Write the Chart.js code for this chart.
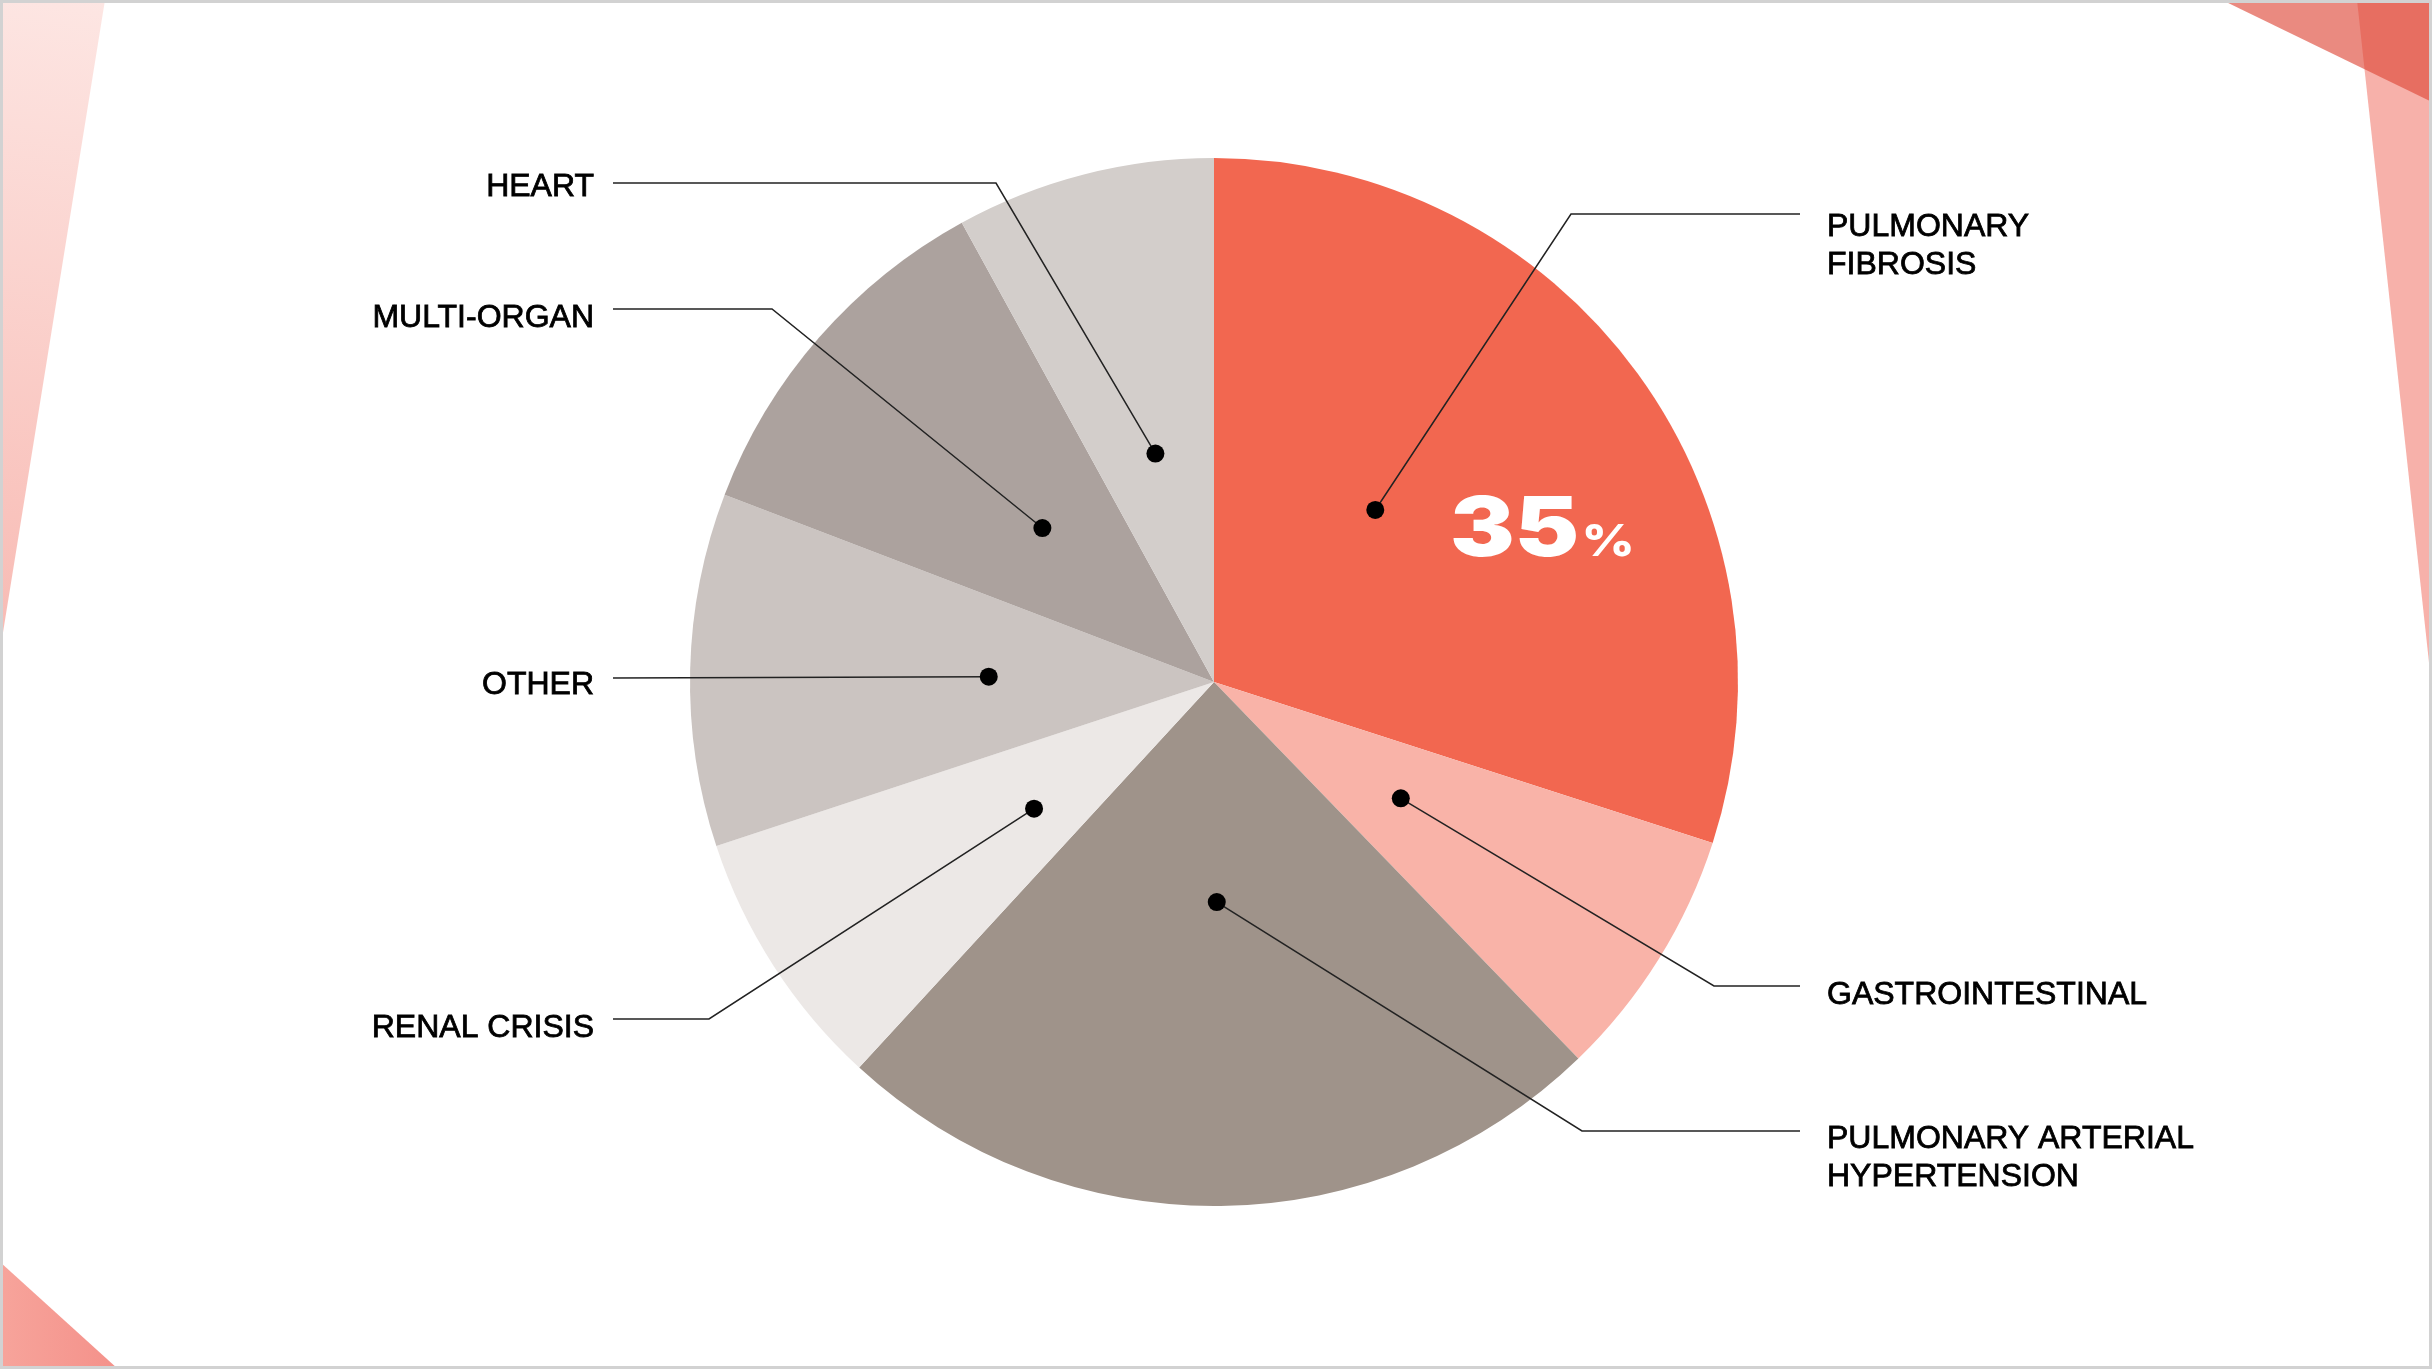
<!DOCTYPE html>
<html lang="en">
<head>
<meta charset="UTF-8">
<title>Causes</title>
<script src="https://cdn.jsdelivr.net/npm/chart.js@4.4.1/dist/chart.umd.min.js"></script>
<style>
  html, body { margin: 0; padding: 0; background: #fff; }
  #wrap { width: 2432px; height: 1369px; position: relative; }
</style>
</head>
<body>
<div id="wrap"><canvas id="pie"></canvas></div>
<script>
// slices, clockwise from 12 o'clock (share of total)
var categories = ["PULMONARY FIBROSIS", "GASTROINTESTINAL", "PULMONARY ARTERIAL HYPERTENSION",
                  "RENAL CRISIS", "OTHER", "MULTI-ORGAN", "HEART"];
var shares = [30.0, 7.8, 24.1, 8.1, 10.9, 11.2, 8.0];
var highlightText = "35";

var colors = ["#f26750", "#f9b3a8", "#9f938a", "#ece8e6", "#cbc4c1", "#aca29e", "#d3cecb"];

// label text lines + where the leader line bends (px), side of the pie
var labelSetup = [
  { lines: ["PULMONARY", "FIBROSIS"], side: "r", y: 214, textDy: 22, elbowX: 1571, dotFrac: 0.40, dotR: 0.45 },
  { lines: ["GASTROINTESTINAL"], side: "r", y: 986, textDy: 18, elbowX: 1714, dotFrac: 0.5, dotR: 0.42 },
  { lines: ["PULMONARY ARTERIAL", "HYPERTENSION"], side: "r", y: 1131, textDy: 17, elbowX: 1582, dotFrac: 0.5, dotR: 0.42 },
  { lines: ["RENAL CRISIS"], side: "l", y: 1019, textDy: 18, elbowX: 709, dotFrac: 0.42, dotR: 0.42 },
  { lines: ["OTHER"], side: "l", y: 678, textDy: 16, elbowX: null, dotFrac: 0.5, dotR: 0.43 },
  { lines: ["MULTI-ORGAN"], side: "l", y: 309, textDy: 18, elbowX: 772, dotFrac: 0.52, dotR: 0.44 },
  { lines: ["HEART"], side: "l", y: 183, textDy: 13, elbowX: 996, dotFrac: 0.5, dotR: 0.45 }
];

var LEFT_LINE_X = 613, LEFT_TEXT_X = 594;
var RIGHT_LINE_X = 1800, RIGHT_TEXT_X = 1827;

var backdrop = {
  id: "backdrop",
  beforeDraw: function(chart) {
    var c = chart.ctx, W = chart.width, H = chart.height;
    c.save();
    c.fillStyle = "#fff";
    c.fillRect(0, 0, W, H);

    // top-left faded wedge
    var g = c.createLinearGradient(105, 0, 0, 651);
    g.addColorStop(0, "#fde6e3");
    g.addColorStop(1, "#f8bab3");
    c.fillStyle = g;
    c.beginPath(); c.moveTo(0, 0); c.lineTo(105, 0); c.lineTo(0, 651); c.closePath(); c.fill();

    // top-right stripe and triangle
    c.fillStyle = "rgba(240,100,85,0.5)";
    c.beginPath(); c.moveTo(2357, 0); c.lineTo(2432, 0); c.lineTo(2432, 690); c.closePath(); c.fill();
    c.fillStyle = "rgba(222,72,56,0.64)";
    c.beginPath(); c.moveTo(2222, 0); c.lineTo(2432, 0); c.lineTo(2432, 102); c.closePath(); c.fill();

    // bottom-left triangle
    var g2 = c.createLinearGradient(0, 0, 118, 0);
    g2.addColorStop(0, "#f7a49b");
    g2.addColorStop(1, "#f4918a");
    c.fillStyle = g2;
    c.beginPath(); c.moveTo(0, 1262); c.lineTo(118, 1369); c.lineTo(0, 1369); c.closePath(); c.fill();
    c.restore();
  },
  afterDraw: function(chart) {
    var c = chart.ctx;
    c.save();
    c.strokeStyle = "#d2d2d2";
    c.lineWidth = 3;
    c.strokeRect(1.5, 1.5, chart.width - 3, chart.height - 3);
    c.restore();
  }
};

var leaders = {
  id: "leaders",
  afterDatasetsDraw: function(chart) {
    var c = chart.ctx;
    var arcs = chart.getDatasetMeta(0).data;
    c.save();
    arcs.forEach(function(arc, i) {
      var s = labelSetup[i];
      var p = arc.getProps(["x", "y", "startAngle", "endAngle", "outerRadius"], true);
      var a = p.startAngle + (p.endAngle - p.startAngle) * s.dotFrac;
      var dx = p.x + Math.cos(a) * p.outerRadius * s.dotR;
      var dy = p.y + Math.sin(a) * p.outerRadius * s.dotR;
      var lx = s.side === "l" ? LEFT_LINE_X : RIGHT_LINE_X;

      c.strokeStyle = "#222";
      c.lineWidth = 1.5;
      c.beginPath();
      c.moveTo(lx, s.y);
      if (s.elbowX !== null) {
        c.lineTo(s.elbowX, s.y);
      }
      c.lineTo(dx, dy);
      c.stroke();

      c.fillStyle = "#000";
      c.beginPath();
      c.arc(dx, dy, 9, 0, Math.PI * 2);
      c.fill();

      c.font = "32px 'Liberation Sans', Arial, sans-serif";
      c.fillStyle = "#000";
      c.strokeStyle = "#000";
      c.lineWidth = 0.8;
      c.textBaseline = "alphabetic";
      c.textAlign = s.side === "l" ? "right" : "left";
      var tx = s.side === "l" ? LEFT_TEXT_X : RIGHT_TEXT_X;
      var base = s.y + s.textDy;
      s.lines.forEach(function(t, k) {
        c.fillText(t, tx, base + k * 38);
        c.strokeText(t, tx, base + k * 38);
      });
    });

    // big figure inside the first slice, a wide heavy face
    c.fillStyle = "#fff";
    c.textAlign = "left";
    c.save();
    c.translate(1450, 556);
    c.scale(1.18, 1);
    c.font = "900 82px Inter, 'Liberation Sans', sans-serif";
    c.fillText(highlightText, 0, 0);
    var w = c.measureText(highlightText).width;
    c.font = "800 44px Inter, 'Liberation Sans', sans-serif";
    c.fillText("%", w + 2, 0);
    c.restore();
    c.restore();
  }
};

new Chart(document.getElementById("pie"), {
  type: "pie",
  data: {
    labels: categories,
    datasets: [{
      data: shares,
      backgroundColor: colors,
      borderWidth: 0
    }]
  },
  options: {
    responsive: true,
    maintainAspectRatio: false,
    animation: false,
    layout: { padding: { left: 690, right: 694, top: 158, bottom: 163 } },
    plugins: {
      legend: { display: false },
      tooltip: { enabled: false }
    }
  },
  plugins: [backdrop, leaders]
});
</script>
</body>
</html>
